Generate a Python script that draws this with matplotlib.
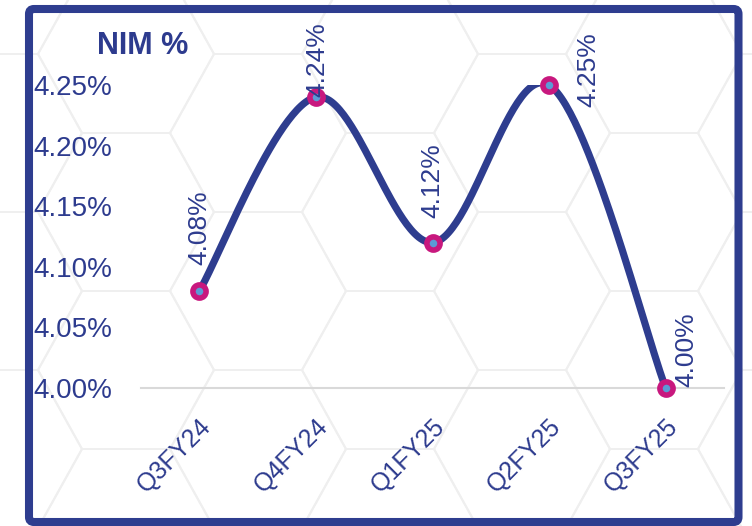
import numpy as np
import matplotlib.pyplot as plt
from matplotlib.collections import LineCollection
from matplotlib.patches import FancyBboxPatch

# datos del grafico
quarters = ['Q3FY24', 'Q4FY24', 'Q1FY25', 'Q2FY25', 'Q3FY25']
nim = [4.08, 4.24, 4.12, 4.25, 4.00]
nim_labels = ['4.08%', '4.24%', '4.12%', '4.25%', '4.00%']
y_ticks = [4.00, 4.05, 4.10, 4.15, 4.20, 4.25]

# desplazamiento de etiquetas (puntos)
label_offsets = [(0, 19), (1, 0), (0, 18), (28, -16), (15, 1)]

NAVY = '#2E3D8F'
TEXT = '#2D3B8E'
MAGENTA = '#C8187E'
FILL = '#5B9BD5'
W, H = 752, 526

plt.rcParams['font.family'] = ['Liberation Sans', 'DejaVu Sans']

fig = plt.figure(figsize=(W / 100, H / 100), dpi=100)

# fondo de hexagonos + marco (coordenadas en pixeles)
bg = fig.add_axes([0, 0, 1, 1], zorder=0)
bg.set_xlim(0, W)
bg.set_ylim(H, 0)
bg.axis('off')
a, dx, dy = 88, 44, 79
segs = []
for cx0, cy0 in [(258, 133), (126, 54)]:
    for m in range(-2, 5):
        for k in range(-2, 5):
            cx = cx0 + 264 * m
            cy = cy0 + 158 * k
            pts = [(cx - a / 2, cy - dy), (cx + a / 2, cy - dy), (cx + a / 2 + dx, cy),
                   (cx + a / 2, cy + dy), (cx - a / 2, cy + dy), (cx - a / 2 - dx, cy),
                   (cx - a / 2, cy - dy)]
            segs.append(pts)
bg.add_collection(LineCollection(segs, colors='#EFEFEF', linewidths=1.4))
frame = FancyBboxPatch((29, 9), 709.5, 513, boxstyle='round,pad=0,rounding_size=5',
                       fc='none', ec=NAVY, lw=5.8, zorder=5)
bg.add_patch(frame)
bg.text(143, 46, 'NIM %', fontsize=22, fontweight='bold', color=TEXT,
        ha='center', va='center')

# grafico principal
ax = fig.add_axes([141 / W, (H - 388) / H, 583 / W, 303 / H], zorder=2)
ax.patch.set_alpha(0)
x = np.arange(len(quarters))
ax.set_xlim(-0.5, len(quarters) - 0.5)
ax.set_ylim(4.00, 4.25)

# linea suavizada tipo Excel (bezier en pixeles)
pix = ax.transData.transform(np.column_stack([x, nim]))
curve = []
n = len(pix)
for i in range(n - 1):
    p0 = pix[max(i - 1, 0)]
    p1 = pix[i]
    p2 = pix[i + 1]
    p3 = pix[min(i + 2, n - 1)]
    c1 = p1 + (p2 - p0) / 6
    c2 = p2 - (p3 - p1) / 6
    t = np.linspace(0, 1, 60)[:, None]
    seg = ((1 - t) ** 3) * p1 + 3 * ((1 - t) ** 2) * t * c1 + 3 * (1 - t) * t ** 2 * c2 + t ** 3 * p2
    curve.append(seg if i == 0 else seg[1:])
curve = ax.transData.inverted().transform(np.vstack(curve))
ax.plot(curve[:, 0], curve[:, 1], color=NAVY, lw=5.2, solid_capstyle='butt', zorder=3)
ax.plot(x, nim, 'o', ms=9.5, mew=4, mec=MAGENTA, mfc=FILL, clip_on=False, zorder=4)

for xi, yi, lab, off in zip(x, nim, nim_labels, label_offsets):
    ax.annotate(lab, (xi, yi), xytext=off, textcoords='offset points', rotation=90,
                ha='center', va='bottom', fontsize=19, color=TEXT, annotation_clip=False,
                zorder=5)

ax.set_yticks(y_ticks)
ax.set_yticklabels([f'{v:.2f}%' for v in y_ticks])
ax.set_xticks(x)
ax.set_xticklabels(quarters, rotation=45, ha='right', rotation_mode='anchor')
ax.tick_params(axis='y', length=0, pad=21, labelsize=20, labelcolor=TEXT)
ax.tick_params(axis='x', length=0, pad=19, labelsize=18, labelcolor=TEXT)
for lbl in ax.get_xticklabels():
    lbl.set_x(lbl.get_position()[0])
for s in ['top', 'right', 'left']:
    ax.spines[s].set_visible(False)
ax.spines['bottom'].set_color('#D9D9D9')
ax.spines['bottom'].set_linewidth(1.5)

fig.savefig('out.png', dpi=100)
